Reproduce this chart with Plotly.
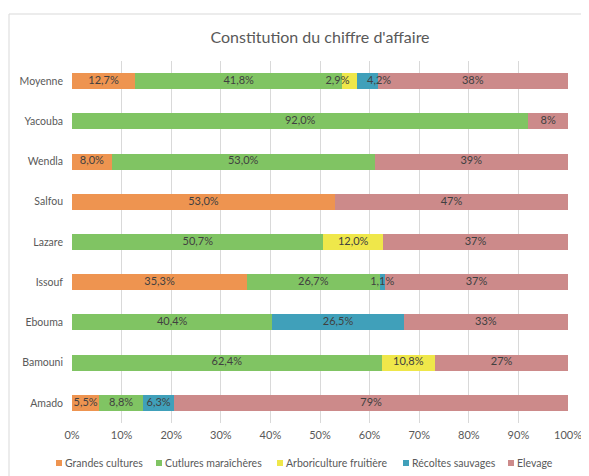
import plotly.graph_objects as go

categories = ["Amado", "Bamouni", "Ebouma", "Issouf", "Lazare", "Salfou", "Wendla", "Yacouba", "Moyenne"]
series_names = ["Grandes cultures", "Cutlures maraîchères", "Arboriculture fruitière", "Récoltes sauvages", "Elevage"]
grandes = [5.5, 0, 0, 35.3, 0, 53.0, 8.0, 0, 12.7]
maraicheres = [8.8, 62.4, 40.4, 26.7, 50.7, 0, 53.0, 92.0, 41.8]
arbo = [0, 10.8, 0, 0, 12.0, 0, 0, 0, 2.9]
recoltes = [6.3, 0, 26.5, 1.1, 0, 0, 0, 0, 4.2]
elevage = [79.4, 26.8, 33.1, 36.9, 37.3, 47.0, 39.0, 8.0, 38.4]
colors = ["#EE9450", "#80C463", "#EFE74A", "#40A0BA", "#CC8A8A"]
tick_vals = [0, 10, 20, 30, 40, 50, 60, 70, 80, 90, 100]
tick_text = [f"{v}%" for v in tick_vals]

# page has an 8px body margin; work in page pixels and convert
OFF = 8
W, H = 589 - OFF, 476 - OFF
L = 72 - OFF
R = W - (568 - OFF)
T = 61 - OFF
B = H - (423 - OFF)
PW, PH = W - L - R, H - T - B

def px_x(px):  # page pixel -> paper
    return (px - OFF - L) / PW

def px_y(py):
    return (H - B - (py - OFF)) / PH

def fmt1(v):
    return "" if v == 0 else f"{v:.1f}".replace(".", ",") + "%"

def fmt0(v):
    return "" if v == 0 else f"{v:.0f}%"

fig = go.Figure()
all_series = [grandes, maraicheres, arbo, recoltes, elevage]
for i, (name, vals) in enumerate(zip(series_names, all_series)):
    fig.add_trace(go.Bar(
        y=categories, x=vals, name=name, orientation="h",
        marker=dict(color=colors[i], line=dict(width=0)),
        hoverinfo="skip", showlegend=False,
    ))

# label placement style per series/category (to separate crowded small labels on "Moyenne")
label_pos = {
    "Arboriculture fruitière": {"Moyenne": "middle left"},
    "Récoltes sauvages": {"Moyenne": "middle right"},
}

# data labels on top of all bars (centre of each stacked segment)
base = [0.0] * len(categories)
for i, (name, vals) in enumerate(zip(series_names, all_series)):
    f = fmt0 if name == "Elevage" else fmt1
    mids = [b + v / 2 for b, v in zip(base, vals)]
    pos = [label_pos.get(name, {}).get(c, "middle center") for c in categories]
    fig.add_trace(go.Scatter(
        x=mids, y=categories, mode="text", text=[f(v) for v in vals],
        textposition=pos,
        textfont=dict(color="#404040", size=11, family="Lato"),
        hoverinfo="skip", showlegend=False, cliponaxis=False,
    ))
    base = [b + v for b, v in zip(base, vals)]

fig.update_layout(
    barmode="stack",
    bargap=0.6,
    width=W, height=H,
    margin=dict(l=L, r=R, t=T, b=B, autoexpand=False),
    paper_bgcolor="white", plot_bgcolor="white",
    font=dict(family="Lato", color="#595959", size=11),
    title=dict(text="Constitution du chiffre d'affaire", x=0.5, xanchor="center",
               xref="paper",
               y=1 - (37 - OFF) / H, yanchor="middle", yref="container",
               font=dict(size=16, color="#595959", family="Lato")),
    xaxis=dict(range=[0, 100], tickvals=tick_vals, ticktext=tick_text,
               showgrid=True, gridcolor="#D9D9D9", gridwidth=1,
               zeroline=False, showline=False, ticks="", automargin=False,
               ticklabelstandoff=4,
               tickfont=dict(size=11, color="#595959")),
    yaxis=dict(showgrid=False, showline=False, ticks="", automargin=False,
               ticklabelstandoff=8,
               tickfont=dict(size=10.5, color="#595959")),
    showlegend=False,
)

# chart border
fig.add_shape(type="rect", xref="paper", yref="paper",
              x0=px_x(9), x1=px_x(620), y0=px_y(520), y1=px_y(14),
              line=dict(color="#D9D9D9", width=1), fillcolor="rgba(0,0,0,0)", layer="below")

# legend drawn manually
legend_sq_x = [56, 156, 277, 403, 508]
legend_y = 463
for i, name in enumerate(series_names):
    x0 = legend_sq_x[i]
    fig.add_shape(type="rect", xref="paper", yref="paper",
                  x0=px_x(x0), x1=px_x(x0 + 6), y0=px_y(legend_y + 3), y1=px_y(legend_y - 3),
                  line=dict(width=0), fillcolor=colors[i])
    fig.add_annotation(xref="paper", yref="paper", x=px_x(x0 + 7), y=px_y(legend_y),
                       text=name, showarrow=False, xanchor="left", yanchor="middle",
                       font=dict(size=10.5, color="#595959", family="Lato"))

fig.write_html("out.html")
